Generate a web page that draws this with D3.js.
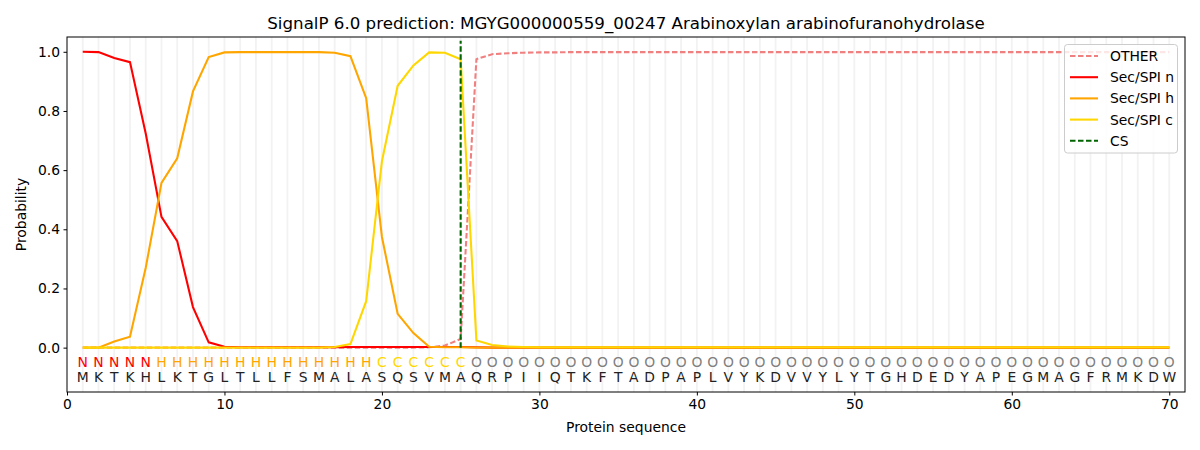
<!DOCTYPE html>
<html><head><meta charset="utf-8">
<script src="https://cdn.jsdelivr.net/npm/d3@7"></script>
<style>body{margin:0;background:#fff}svg{display:block}text{font-family:"DejaVu Sans",sans-serif}</style>
</head><body>
<svg id="c" width="1200" height="450"></svg>
<script>
const sequence = "MKTKHLKTGLTLLFSMALASQSVMAQRPIIQTKFTADPAPLVYKDVVYLYTGHDEDYAPEGMAGFRMKDW".split("");
const labels = "NNNNNHHHHHHHHHHHHHHCCCCCCOOOOOOOOOOOOOOOOOOOOOOOOOOOOOOOOOOOOOOOOOOOOO".split("");
const positions = d3.range(1, 71);
const otherVals = [0,0,0,0,0,0,0,0,0,0,0,0,0,0,0,0,0,0,0,0,0,0,0.001,0.007,0.029,0.975,0.992,0.995,0.997,0.998,
 0.998,0.999,0.999,0.999,0.999,0.999,0.999,0.999,0.999,0.999,0.999,0.999,0.999,0.999,0.999,0.999,0.999,0.999,0.999,0.999,
 0.999,0.999,0.999,0.999,0.999,0.999,0.999,0.999,0.999,0.999,0.999,0.999,0.999,0.999,0.999,0.999,0.999,0.999,0.999,0.999];
const nVals = [1.0,0.999,0.979,0.965,0.724,0.442,0.36,0.137,0.018,0.003,0.001,0.001,0.001,0.001,0.001,0.001,0.001,0.002,0.002,0.002,
 0.002,0.002,0.002,0.002,0.002,0.001,0,0,0,0,0,0,0,0,0,0,0,0,0,0,0,0,0,0,0,0,0,0,0,0,0,0,0,0,0,0,0,0,0,0,0,0,0,0,0,0,0,0,0,0];
const hVals = [0,0,0.021,0.037,0.27,0.557,0.64,0.866,0.982,0.998,0.999,0.999,0.999,0.999,0.999,0.999,0.997,0.985,0.843,0.374,
 0.114,0.049,0.003,0.001,0.001,0,0,0,0,0,0,0,0,0,0,0,0,0,0,0,0,0,0,0,0,0,0,0,0,0,0,0,0,0,0,0,0,0,0,0,0,0,0,0,0,0,0,0,0,0];
const cVals = [0,0,0,0,0,0,0,0,0,0,0,0,0,0,0,0,0.002,0.012,0.157,0.63,
 0.885,0.954,0.998,0.997,0.975,0.024,0.009,0.004,0.002,0.001,0.001,0.001,0.001,0.001,0.001,0.001,0.001,0.001,0.001,0.001,
 0.001,0.001,0.001,0.001,0.001,0.001,0.001,0.001,0.001,0.001,0.001,0.001,0.001,0.001,0.001,0.001,0.001,0.001,0.001,0.001,
 0.001,0.001,0.001,0.001,0.001,0.001,0.001,0.001,0.001,0.001];
const csPos = 25;
const xTicks = [0,10,20,30,40,50,60,70];
const yTicks = [0,0.2,0.4,0.6,0.8,1.0];

const svg = d3.select("#c");
const L = 67, R = 1185, T = 37, B = 392;
const FS = 13.89;
const x = d3.scaleLinear().domain([0, 71]).range([L, R]);
const y = d3.scaleLinear().domain([-0.15, 1.05]).range([B, T]);

// grid
svg.append("g").selectAll("line").data(positions).join("line")
  .attr("x1", d => x(d)).attr("x2", d => x(d)).attr("y1", T).attr("y2", B)
  .attr("stroke", "#f2f2f2").attr("stroke-width", 1.8);

const series = [
  {name: "OTHER", vals: otherVals, color: "#f08080", dash: "5.5,2.5"},
  {name: "Sec/SPI n", vals: nVals, color: "#ff0000", dash: null},
  {name: "Sec/SPI h", vals: hVals, color: "#ffa500", dash: null},
  {name: "Sec/SPI c", vals: cVals, color: "#ffd700", dash: null}
];
const line = d3.line().x((d, i) => x(positions[i])).y(d => y(d));
series.forEach(s => {
  svg.append("path").datum(s.vals).attr("d", line).attr("fill", "none")
    .attr("stroke", s.color).attr("stroke-width", 2.08)
    .attr("stroke-dasharray", s.dash);
});
svg.append("line").attr("x1", x(csPos)).attr("x2", x(csPos)).attr("y1", y(0)).attr("y2", y(1.037))
  .attr("stroke", "#006400").attr("stroke-width", 2.08).attr("stroke-dasharray", "5.5,2.5");

// letters
const labColor = {N: "#ff0000", H: "#ffa500", C: "#ffd700", O: "#808080"};
svg.append("g").selectAll("text").data(positions).join("text")
  .attr("x", d => x(d)).attr("y", y(-0.05)).attr("dy", "0.36em").attr("text-anchor", "middle")
  .attr("font-size", FS).attr("fill", (d, i) => labColor[labels[i]]).text((d, i) => labels[i]);
svg.append("g").selectAll("text").data(positions).join("text")
  .attr("x", d => x(d)).attr("y", y(-0.1)).attr("dy", "0.36em").attr("text-anchor", "middle")
  .attr("font-size", FS).attr("fill", "#222").text((d, i) => sequence[i]);

// frame
svg.append("rect").attr("x", L).attr("y", T).attr("width", R - L).attr("height", B - T)
  .attr("fill", "none").attr("stroke", "#000").attr("stroke-width", 1);

// axes
const xa = svg.append("g").attr("transform", `translate(0,${B})`)
  .call(d3.axisBottom(x).tickValues(xTicks).tickFormat(d3.format("d")).tickSizeOuter(0).tickSize(3.5).tickPadding(3.5));
const ya = svg.append("g").attr("transform", `translate(${L},0)`)
  .call(d3.axisLeft(y).tickValues(yTicks).tickFormat(d3.format(".1f")).tickSizeOuter(0).tickSize(3.5).tickPadding(3.5));
[xa, ya].forEach(a => {
  a.select(".domain").remove();
  a.selectAll("text").attr("font-size", FS).attr("fill", "#000").attr("font-family", "DejaVu Sans");
  a.selectAll("line").attr("stroke", "#000");
});

svg.append("text").attr("x", (L + R) / 2).attr("y", 432).attr("text-anchor", "middle")
  .attr("font-size", FS).text("Protein sequence");
svg.append("text").attr("transform", `translate(26,${(T + B) / 2}) rotate(-90)`).attr("text-anchor", "middle")
  .attr("font-size", FS).text("Probability");
svg.append("text").attr("x", (L + R) / 2).attr("y", 29).attr("text-anchor", "middle")
  .attr("font-size", 16.67).text("SignalP 6.0 prediction: MGYG000000559_00247 Arabinoxylan arabinofuranohydrolase");

// legend
const lg = svg.append("g");
lg.append("rect").attr("x", 1064.5).attr("y", 44.5).attr("width", 113).attr("height", 108.5).attr("rx", 3)
  .attr("fill", "#fff").attr("fill-opacity", 0.8).attr("stroke", "#cccccc");
const legItems = series.map(s => ({name: s.name, color: s.color, dash: s.dash}))
  .concat([{name: "CS", color: "#006400", dash: "5.5,2.5"}]);
legItems.forEach((it, i) => {
  const yy = 56 + i * 21.2;
  lg.append("line").attr("x1", 1070).attr("x2", 1098).attr("y1", yy).attr("y2", yy)
    .attr("stroke", it.color).attr("stroke-width", 2.08).attr("stroke-dasharray", it.dash);
  lg.append("text").attr("x", 1110).attr("y", yy).attr("dy", "0.36em").attr("font-size", FS).text(it.name);
});
</script>
</body></html>
